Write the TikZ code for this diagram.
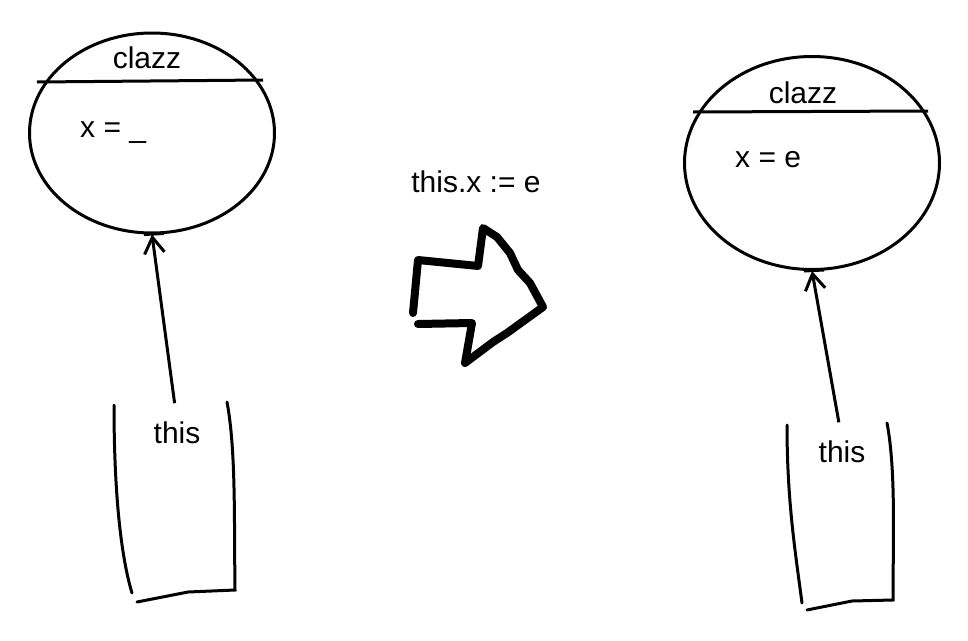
\documentclass[tikz,border=0pt]{standalone}
\usepackage{fontspec}
\setmainfont{Liberation Sans}
\usetikzlibrary{shapes.geometric,arrows.meta}

\tikzset{
  obj/.style={draw,ellipse,line width=3pt,inner sep=0pt},
  lbl/.style={anchor=base,inner sep=0pt,font=\fontsize{30}{36}\selectfont},
  ref/.style={-{Straight Barb[length=16pt,width=20pt,line width=3pt]},line width=3pt},
  frame/.style={line width=3pt,line cap=round},
}

\begin{document}
\begin{tikzpicture}[x=1pt,y=-1pt]
\useasboundingbox (0,0) rectangle (968,640);
% before
\node[obj,minimum width=245pt,minimum height=200pt] (objA) at (152,133) {};
\draw[line width=3pt] (37,82) -- (263,80);
\node[lbl] (clazzA) at (147,68) {clazz};
\node[lbl,anchor=base west] (fieldA) at (80,137) {x = \_};
\node[lbl] (thisA) at (177,443) {this};
\draw[frame] (114,405) .. controls (114,500) and (122,560) .. (132,593);
\draw[frame] (227,402) .. controls (236,450) and (234,520) .. (235,590) -- (188,592) -- (137,602);
\draw[ref,shorten <=18pt] (thisA.north) -- (objA.south);
\draw[line width=3pt] ([xshift=-8pt]objA.south) -- ([xshift=12pt,yshift=1pt]objA.south);
% step
\node[lbl] (stmt) at (476,192) {this.x := e};
\draw[line width=8pt,line join=round,line cap=round]
  (413,313) -- (418,260) -- (478,266) -- (483,228) -- (497,237) -- (510,253)
  -- (518,270) -- (530,283) -- (543,307) -- (507,333) -- (493,342) -- (465,363)
  -- (472,323) -- (418,324);
% after
\node[obj,minimum width=255pt,minimum height=213pt] (objB) at (812,163) {};
\draw[line width=3pt] (693,112) -- (928,111);
\node[lbl] (clazzB) at (803,103) {clazz};
\node[lbl,anchor=base west] (fieldB) at (735,167) {x = e};
\node[lbl] (thisB) at (842,462) {this};
\draw[ref,shorten <=18pt] (thisB.north) -- (objB.south);
\draw[frame] (787,425) .. controls (787,500) and (795,550) .. (802,603);
\draw[frame] (887,423) .. controls (896,470) and (893,540) .. (893,600) -- (852,601) -- (807,610);
\draw[line width=3pt] ([xshift=-8pt]objB.south) -- ([xshift=12pt,yshift=1pt]objB.south);
\end{tikzpicture}
\end{document}
